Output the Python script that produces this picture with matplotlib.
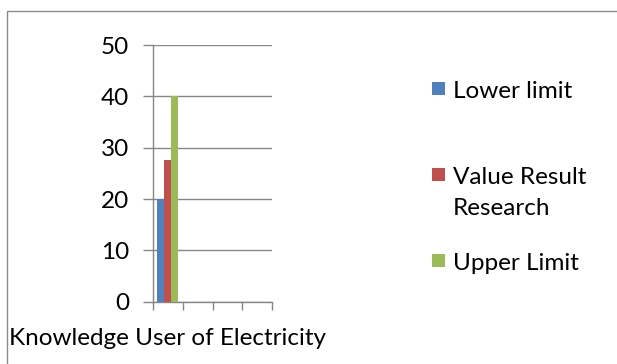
import matplotlib
matplotlib.use("Agg")
import matplotlib.pyplot as plt
from matplotlib.patches import Rectangle

# Chart data
categories = ["Knowledge User of Electricity", "", "", ""]
series_names = ["Lower limit", "Value Result\nResearch", "Upper Limit"]
lower_limit = [20]
value_result = [27.6]
upper_limit = [40]
y_ticks = [0, 10, 20, 30, 40, 50]

colors = ["#4F81BD", "#C0504D", "#9BBB59"]
grid_color = "#868686"
font = ["Lato", "DejaVu Sans"]
plt.rcParams["font.family"] = font
FS = 17.5

W, H, DPI = 617, 364, 100
fig = plt.figure(figsize=(W / DPI, H / DPI), dpi=DPI)

# outer chart frame (only top and left edges fall inside the canvas)
fig.patches.append(Rectangle((7 / W, -0.2), 1.2, (364 - 11) / H + 0.2,
                             transform=fig.transFigure, fill=False,
                             edgecolor="#8c8c8c", linewidth=1.0))

ax = fig.add_axes([153 / W, (364 - 301.7) / H, 119 / W, 256.7 / H])

bar_w = 0.235
series = [lower_limit, value_result, upper_limit]
for i, (vals, c) in enumerate(zip(series, colors)):
    xs = [k + 0.5 + (i - 1) * bar_w for k in range(len(vals))]
    ax.bar(xs, vals, width=bar_w, color=c, linewidth=0, zorder=3)

ax.set_xlim(0, len(categories))
ax.set_ylim(0, 50)
ax.set_yticks(y_ticks)
ax.set_yticklabels([str(v) for v in y_ticks], fontsize=FS)
ax.yaxis.grid(True, color=grid_color, linewidth=1.0, zorder=0)
ax.set_axisbelow(True)

ax.set_xticks(range(len(categories) + 1))
ax.set_xticklabels([])
ax.set_xticks([k + 0.5 for k in range(len(categories))], minor=True)
ax.set_xticklabels(categories, minor=True, fontsize=FS)
ax.tick_params(axis="x", which="minor", length=0, pad=19)
ax.tick_params(axis="x", which="major", length=6, color=grid_color, width=1.0)
ax.tick_params(axis="y", length=7, color=grid_color, width=1.0, pad=10)

for s in ["top", "right"]:
    ax.spines[s].set_visible(False)
for s in ["left", "bottom"]:
    ax.spines[s].set_color(grid_color)
    ax.spines[s].set_linewidth(1.0)

# legend: colour swatch beside the first line of each label
legend_y = [88, 174, 260]
sq = 13
for name, c, y in zip(series_names, colors, legend_y):
    fig.patches.append(Rectangle((432 / W, (H - y - sq / 2) / H), sq / W, sq / H,
                                 transform=fig.transFigure, facecolor=c,
                                 edgecolor="none"))
    fig.text(453 / W, (H - y + 7) / H, name, fontsize=FS, va="top",
             ha="left", linespacing=1.6)

fig.savefig("out.png", dpi=DPI)
